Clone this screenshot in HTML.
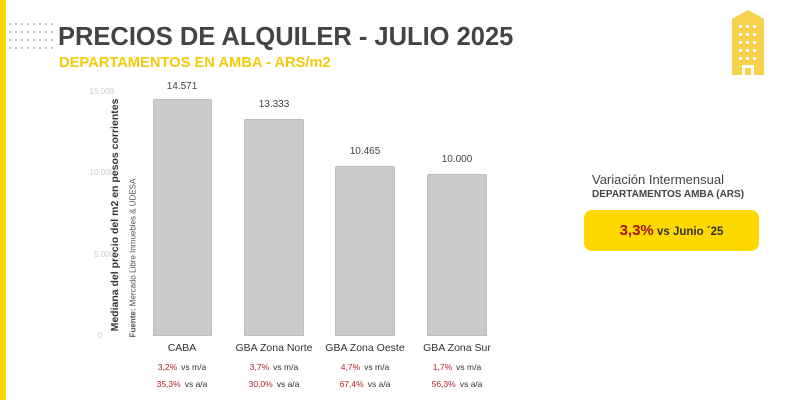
<!DOCTYPE html>
<html><head><meta charset="utf-8"><style>
body{margin:0;width:788px;height:400px;background:#fff;position:relative;overflow:hidden;font-family:"Liberation Sans",sans-serif}
.a{position:absolute;white-space:nowrap}
.bar{position:absolute;background:#cbcbcb;border:1px solid #bdbdbd;border-radius:2px 2px 0 0;box-sizing:border-box}
.v{position:absolute;font-size:10px;color:#444;width:80px;text-align:center}
.yt{position:absolute;font-size:8px;color:#ccc;width:40px;text-align:right}
.c{position:absolute;font-size:10.5px;color:#333;width:100px;text-align:center}
.p{position:absolute;font-size:8.5px;color:#333;width:100px;text-align:center}
.p b{font-weight:normal;color:#b0232a;margin-right:4px}
</style></head><body>
<div class="a" style="left:0;top:0;width:6px;height:400px;background:#ffd800"></div>
<svg class="a" style="left:8px;top:22px" width="46" height="28">
<g fill="#999">
<circle cx="2" cy="2" r="0.9"/><circle cx="8" cy="2" r="0.9"/><circle cx="14" cy="2" r="0.9"/><circle cx="20" cy="2" r="0.9"/><circle cx="26" cy="2" r="0.9"/><circle cx="32" cy="2" r="0.9"/><circle cx="38" cy="2" r="0.9"/><circle cx="44" cy="2" r="0.9"/>
<circle cx="2" cy="10" r="0.9"/><circle cx="8" cy="10" r="0.9"/><circle cx="14" cy="10" r="0.9"/><circle cx="20" cy="10" r="0.9"/><circle cx="26" cy="10" r="0.9"/><circle cx="32" cy="10" r="0.9"/><circle cx="38" cy="10" r="0.9"/><circle cx="44" cy="10" r="0.9"/>
<circle cx="2" cy="18" r="0.9"/><circle cx="8" cy="18" r="0.9"/><circle cx="14" cy="18" r="0.9"/><circle cx="20" cy="18" r="0.9"/><circle cx="26" cy="18" r="0.9"/><circle cx="32" cy="18" r="0.9"/><circle cx="38" cy="18" r="0.9"/><circle cx="44" cy="18" r="0.9"/>
<circle cx="2" cy="26" r="0.9"/><circle cx="8" cy="26" r="0.9"/><circle cx="14" cy="26" r="0.9"/><circle cx="20" cy="26" r="0.9"/><circle cx="26" cy="26" r="0.9"/><circle cx="32" cy="26" r="0.9"/><circle cx="38" cy="26" r="0.9"/><circle cx="44" cy="26" r="0.9"/>
</g></svg>
<div class="a" style="left:58px;top:23px;font-size:25.5px;font-weight:bold;color:#444">PRECIOS DE ALQUILER - JULIO 2025</div>
<div class="a" style="left:59px;top:55px;font-size:14.7px;font-weight:bold;color:#f2cc0c">DEPARTAMENTOS EN AMBA - ARS/m2</div>
<svg class="a" style="left:730px;top:5px" width="36" height="72">
<path d="M2 14 L18 5 L34 14 V70 H2 Z" fill="#f7d24a"/>
<g fill="#fff"><rect x="9" y="20" width="3" height="3"/><rect x="16" y="20" width="3" height="3"/><rect x="23" y="20" width="3" height="3"/>
<rect x="9" y="28" width="3" height="3"/><rect x="16" y="28" width="3" height="3"/><rect x="23" y="28" width="3" height="3"/>
<rect x="9" y="36" width="3" height="3"/><rect x="16" y="36" width="3" height="3"/><rect x="23" y="36" width="3" height="3"/>
<rect x="9" y="44" width="3" height="3"/><rect x="16" y="44" width="3" height="3"/><rect x="23" y="44" width="3" height="3"/>
<rect x="9" y="52" width="3" height="3"/><rect x="16" y="52" width="3" height="3"/><rect x="23" y="52" width="3" height="3"/>
<rect x="12" y="60" width="12" height="10"/></g><rect x="15" y="63" width="6" height="7" fill="#f7d24a"/></svg>

<div class="yt" style="left:74px;top:87px">15.000</div>
<div class="yt" style="left:74px;top:168px">10.000</div>
<div class="yt" style="left:74px;top:250px">5.000</div>
<div class="yt" style="left:62px;top:331px">0</div>

<div class="a" style="left:115px;top:215px;transform:translate(-50%,-50%) rotate(-90deg);font-size:10.5px;font-weight:bold;color:#333">Mediana del precio del m2 en pesos corrientes</div>
<div class="a" style="left:133px;top:258px;transform:translate(-50%,-50%) rotate(-90deg);font-size:8px;color:#555"><b>Fuente:</b> Mercado Libre Inmuebles &amp; UDESA</div>

<div class="bar" style="left:153px;top:99px;width:59px;height:237px"></div>
<div class="bar" style="left:244px;top:119px;width:60px;height:217px"></div>
<div class="bar" style="left:335px;top:166px;width:60px;height:170px"></div>
<div class="bar" style="left:427px;top:174px;width:60px;height:162px"></div>

<div class="v" style="left:142px;top:81px">14.571</div>
<div class="v" style="left:234px;top:99px">13.333</div>
<div class="v" style="left:325px;top:146px">10.465</div>
<div class="v" style="left:417px;top:154px">10.000</div>

<div class="c" style="left:132px;top:342px">CABA</div>
<div class="c" style="left:224px;top:342px">GBA Zona Norte</div>
<div class="c" style="left:315px;top:342px">GBA Zona Oeste</div>
<div class="c" style="left:407px;top:342px">GBA Zona Sur</div>

<div class="p" style="left:132px;top:362px"><b>3,2%</b>vs m/a</div>
<div class="p" style="left:224px;top:362px"><b>3,7%</b>vs m/a</div>
<div class="p" style="left:315px;top:362px"><b>4,7%</b>vs m/a</div>
<div class="p" style="left:407px;top:362px"><b>1,7%</b>vs m/a</div>
<div class="p" style="left:132px;top:379px"><b>35,3%</b>vs a/a</div>
<div class="p" style="left:224px;top:379px"><b>30,0%</b>vs a/a</div>
<div class="p" style="left:315px;top:379px"><b>67,4%</b>vs a/a</div>
<div class="p" style="left:407px;top:379px"><b>56,3%</b>vs a/a</div>

<div class="a" style="left:592px;top:172px;font-size:13px;color:#444">Variación Intermensual</div>
<div class="a" style="left:592px;top:189px;font-size:10px;font-weight:bold;color:#444">DEPARTAMENTOS AMBA (ARS)</div>
<div class="a" style="left:584px;top:210px;width:175px;height:41px;background:#ffd800;border-radius:8px;text-align:center;line-height:41px;font-weight:bold;color:#333;font-size:11.5px"><span style="color:#a3141a;font-size:15px">3,3%</span> vs Junio ´25</div>
</body></html>
